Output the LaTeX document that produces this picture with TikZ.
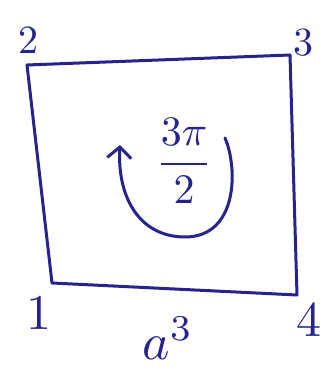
\documentclass[tikz,border=0pt]{standalone}
\usetikzlibrary{arrows.meta}
\definecolor{ink}{RGB}{38,36,140}
\begin{document}
\begin{tikzpicture}[x=1pt, y=1pt, line width=3pt, color=ink,
    every node/.style={text=ink},
    corner/.style={inner sep=0pt, scale=4}]
  \useasboundingbox (0,0) rectangle (334,383);
  % corners of the square
  \coordinate (c1) at (52,100);
  \coordinate (c2) at (27,318);
  \coordinate (c3) at (290,328);
  \coordinate (c4) at (297,88);
  \draw[line join=round] (c1) -- (c2) -- (c3) -- (c4) -- cycle;
  \node[corner] (n2) at (28,343) {2};
  \node[corner] (n3) at (303,340) {3};
  \node[corner, scale=1.25] (n1) at (39,70) {1};
  \node[corner, scale=1.25] (n4) at (309,63) {4};
  \node[corner, scale=1.3] (ab) at (168,45) {$a^3$};
  % rotation
  \coordinate (rs) at (225,245);
  \coordinate (rb) at (185,146);
  \coordinate (re) at (120,238);
  \draw[-{Straight Barb[length=11pt,width=24pt]}, line cap=round]
    (rs) .. controls (238,215) and (238,146) .. (rb)
         .. controls (140,146) and (117,185) .. (re);
  \node[corner, scale=1.05] (ang) at (184,222) {$\displaystyle\frac{3\pi}{2}$};
\end{tikzpicture}
\end{document}
